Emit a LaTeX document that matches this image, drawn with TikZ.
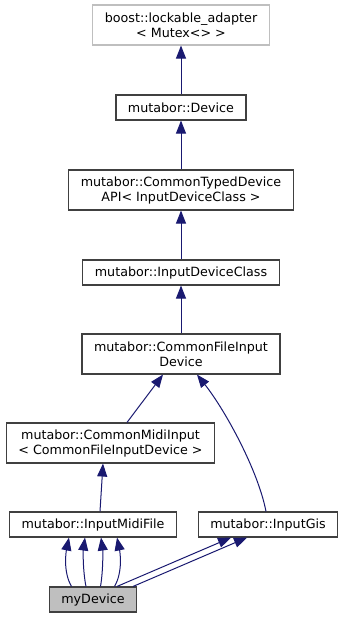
\documentclass[tikz,border=0pt]{standalone}
\usepackage{fontspec}
\setmainfont{DejaVu Sans}
\usepackage{tikz}
\usetikzlibrary{arrows.meta}

\definecolor{edgeblue}{HTML}{191970}
\definecolor{grey75}{HTML}{BFBFBF}

\begin{document}
\begin{tikzpicture}[x=1pt, y=-1pt, font=\fontsize{12.7}{15}\selectfont,
    cls/.style={draw=black!75, line width=1.1pt, fill=white, inner xsep=12pt,
                inner ysep=3pt, minimum height=25pt, align=center},
    cls2/.style={cls, minimum height=40pt},
    ext/.style={cls2, draw=grey75},
    inh/.style={edgeblue, line width=1pt, -{Triangle[length=13pt, width=10pt]}}]
  % 1 unita' = 1 px, asse y verso il basso
  \useasboundingbox (0,0) rectangle (345,619);
  % classi, dall'alto in basso
  \node[ext]  (lock)  at (181,25)    {boost::lockable\_adapter\\< Mutex<> >};
  \node[cls]  (dev)   at (181,107.5) {mutabor::Device};
  \node[cls2] (typed) at (181,190)   {mutabor::CommonTypedDevice\\API< InputDeviceClass >};
  \node[cls]  (idc)   at (181,272.5) {mutabor::InputDeviceClass};
  \node[cls2] (cfi)   at (181,354)   {mutabor::CommonFileInput\\Device};
  \node[cls2] (cmi)   at (110.5,443) {mutabor::CommonMidiInput\\< CommonFileInputDevice >};
  \node[cls]  (imf)   at (93,524.5)  {mutabor::InputMidiFile};
  \node[cls]  (gis)   at (268,524.5) {mutabor::InputGis};
  \node[cls, fill=grey75] (my) at (93,599.5) {myDevice};
  % ereditarieta' lungo la colonna centrale
  \foreach \a/\b in {dev/lock, typed/dev, idc/typed, cfi/idc}
    \draw[inh] (\a) -- (\b);
  \draw[inh] ([xshift=16.5pt]cmi.north) -- ([xshift=-18pt]cfi.south);
  \draw[inh] ([xshift=7pt]imf.north) -- ([xshift=-7.5pt]cmi.south);
  \draw[inh] ([xshift=-2pt]gis.north) .. controls (258,470) and (225,410)
       .. ([xshift=16pt]cfi.south);
  % myDevice eredita piu' volte
  \foreach \s/\c/\d/\e in {-21.5/63/66/-24, -7/83/83/-8, 7.5/103/103/8, 21.5/123/120/24}
    \draw[inh] ([xshift=\s pt]my.north) .. controls (\c,572) and (\d,552)
         .. ([xshift=\e pt]imf.south);
  \draw[inh] ([xshift=24pt]my.north) -- ([xshift=-37pt]gis.south);
  \draw[inh] ([xshift=40pt]my.north) -- ([xshift=-21pt]gis.south);
\end{tikzpicture}
\end{document}
